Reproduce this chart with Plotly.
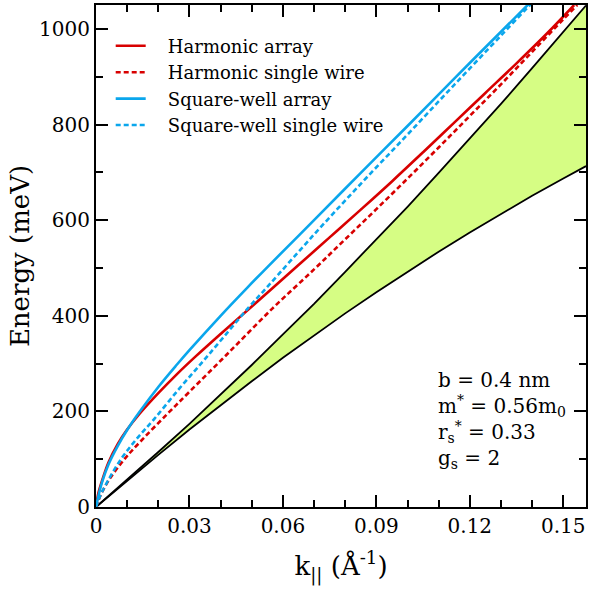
import plotly.graph_objects as go

# ---- data ----
k_cont = [0, 0.01, 0.02, 0.03, 0.04, 0.05, 0.06, 0.07, 0.08, 0.09, 0.10, 0.11, 0.12, 0.13, 0.14, 0.15, 0.1573]
e_cont_low = [0, 55, 109, 162, 213, 263, 312, 359, 405, 449, 492, 534, 574, 613, 651, 687, 713]
e_cont_high = [0, 57, 115, 174, 235, 297, 361, 425, 492, 559, 628, 699, 770, 843, 918, 993, 1049]

k_harm_arr = [0, 0.0008, 0.002, 0.004, 0.007, 0.010, 0.014, 0.020, 0.026, 0.032, 0.040, 0.048,
              0.056, 0.065, 0.075, 0.085, 0.095, 0.105, 0.115, 0.125, 0.135, 0.145, 0.1535]
e_harm_arr = [0, 30, 56, 93, 132, 162, 195, 238, 278, 315, 362, 408,
              454, 506, 564, 622, 681, 742, 804, 866, 928, 992, 1050]

k_harm_wire = [0, 0.0015, 0.004, 0.009, 0.015, 0.0228, 0.030, 0.042, 0.0566, 0.07, 0.08, 0.09,
               0.10, 0.11, 0.12, 0.13, 0.14, 0.15, 0.1545]
e_harm_wire = [0, 25, 55, 99, 142, 194, 241, 319, 415, 497, 560, 623,
               687, 752, 818, 884, 952, 1020, 1050]

k_sq_arr = [0, 0.0008, 0.002, 0.004, 0.007, 0.010, 0.014, 0.020, 0.026, 0.030, 0.040, 0.0486,
            0.0555, 0.070, 0.085, 0.100, 0.115, 0.130, 0.1395]
e_sq_arr = [0, 24, 53, 89, 128, 161, 199, 251, 298, 328, 400, 459,
            505, 600, 699, 797, 896, 994, 1056]

k_sq_wire = [0, 0.001, 0.003, 0.0078, 0.013, 0.0188, 0.0268, 0.034, 0.0409, 0.0491, 0.0555,
             0.070, 0.085, 0.100, 0.115, 0.130, 0.1405]
e_sq_wire = [0, 18, 45, 98, 142, 185, 248, 302, 355, 418, 464,
             570, 676, 779, 883, 986, 1058]

names = ["Harmonic array", "Harmonic single wire", "Square-well array", "Square-well single wire"]
x_ticks = [0, 0.03, 0.06, 0.09, 0.12, 0.15]
x_labels = ["0", "0.03", "0.06", "0.09", "0.12", "0.15"]
y_ticks = [0, 200, 400, 600, 800, 1000]

RED = "#d80000"
BLUE = "#0aa6ec"
GREEN = "#d6fd84"
FONT = "DejaVu Serif"
PAD = "\u00a0\u00a0\u00a0"

fig = go.Figure()
fig.add_trace(go.Scatter(x=k_cont, y=e_cont_low, mode="lines",
                         line=dict(color="black", width=1.8), showlegend=False))
fig.add_trace(go.Scatter(x=k_cont, y=e_cont_high, mode="lines", fill="tonexty",
                         fillcolor=GREEN, line=dict(color="black", width=1.8), showlegend=False))

dash = "5px,3px"
fig.add_trace(go.Scatter(x=k_harm_arr, y=e_harm_arr, mode="lines", name=PAD + names[0],
                         line=dict(color=RED, width=2.6, shape="spline")))
fig.add_trace(go.Scatter(x=k_harm_wire, y=e_harm_wire, mode="lines", name=PAD + names[1],
                         line=dict(color=RED, width=2.6, dash=dash, shape="spline")))
fig.add_trace(go.Scatter(x=k_sq_arr, y=e_sq_arr, mode="lines", name=PAD + names[2],
                         line=dict(color=BLUE, width=2.6, shape="spline")))
fig.add_trace(go.Scatter(x=k_sq_wire, y=e_sq_wire, mode="lines", name=PAD + names[3],
                         line=dict(color=BLUE, width=2.6, dash=dash, shape="spline")))

axis_common = dict(showline=True, linecolor="black", linewidth=2, mirror="ticks",
                   ticks="inside", ticklen=12, tickwidth=1.5, tickcolor="black",
                   showgrid=False, zeroline=False,
                   tickfont=dict(family=FONT, size=20, color="black"))

fig.update_xaxes(range=[0, 0.1573], tickvals=x_ticks, ticktext=x_labels,
                 minor=dict(ticks="inside", ticklen=7, dtick=0.01, tick0=0, tickcolor="black", tickwidth=1.5),
                 title=dict(text="k<sub>||</sub> (Å<sup>-1</sup>)", font=dict(family=FONT, size=26, color="black"),
                            standoff=20),
                 **axis_common)
fig.update_yaxes(range=[0, 1050], tickvals=y_ticks,
                 minor=dict(ticks="inside", ticklen=7, dtick=100, tick0=0, tickcolor="black", tickwidth=1.5),
                 title=dict(text="Energy (meV)", font=dict(family=FONT, size=26, color="black"),
                            standoff=2),
                 **axis_common)

fig.add_annotation(x=0.694, y=0.28, xref="paper", yref="paper", xanchor="left", yanchor="top",
                   align="left", showarrow=False,
                   text="b = 0.4 nm<br>m<sup>*</sup> = 0.56m<sub>0</sub><br>r<sub>s</sub><sup>*</sup> = 0.33<br>g<sub>s</sub> = 2",
                   font=dict(family=FONT, size=20, color="black"))

fig.update_layout(width=590, height=590, margin=dict(l=96, r=2, t=5, b=83),
                  paper_bgcolor="white", plot_bgcolor="white",
                  legend=dict(x=0.03, y=0.955, xanchor="left", yanchor="top", traceorder="normal",
                              bgcolor="rgba(0,0,0,0)", font=dict(family=FONT, size=18, color="black"),
                              tracegroupgap=0))

fig.write_html("out.html", config={"displayModeBar": False},
               post_script="document.body.style.margin='0px';")
